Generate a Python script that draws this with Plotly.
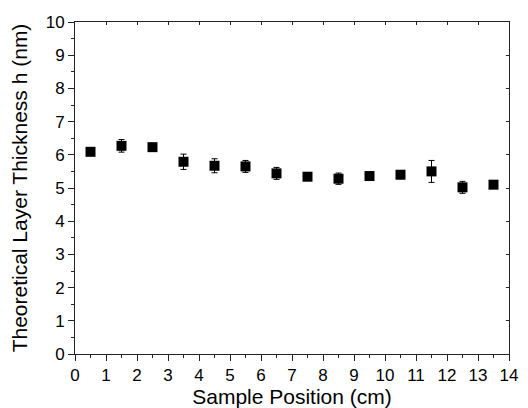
import plotly.graph_objects as go

positions = [0.5, 1.5, 2.5, 3.5, 4.5, 5.5, 6.5, 7.5, 8.5, 9.5, 10.5, 11.5, 12.5, 13.5]
thickness = [6.09, 6.27, 6.23, 5.79, 5.67, 5.65, 5.44, 5.34, 5.28, 5.36, 5.40, 5.50, 5.02, 5.10]
errors = [0.08, 0.19, 0.10, 0.23, 0.21, 0.18, 0.18, 0.10, 0.17, 0.10, 0.12, 0.33, 0.18, 0.08]

font_family = "Liberation Sans, Arial, sans-serif"

fig = go.Figure()
fig.add_trace(go.Scatter(
    x=positions, y=thickness, mode="markers",
    marker=dict(symbol="square", size=10, color="black"),
    error_y=dict(type="data", array=errors, visible=True, color="black", thickness=1, width=3),
    showlegend=False,
))
# invisible trace for the mirrored (top/right) axes
fig.add_trace(go.Scatter(x=[None], y=[None], xaxis="x2", yaxis="y2", showlegend=False, hoverinfo="skip"))

axis_common = dict(showgrid=False, zeroline=False, linecolor="#222", linewidth=1, automargin=False,
                   tickcolor="#222", tickfont=dict(family=font_family, size=17, color="black"))

# page body has an 8px margin, so figure is 520x400 with left/top margins reduced accordingly
fig.update_layout(
    width=520, height=400,
    margin=dict(l=67, r=19, t=14, b=54),
    plot_bgcolor="white", paper_bgcolor="white",
    font=dict(family=font_family, color="black"),
    xaxis=dict(range=[0, 14], dtick=1, tick0=0, ticks="outside", ticklen=6, tickwidth=1,
               minor=dict(dtick=0.5, ticks="outside", ticklen=3, tickcolor="#222"),
               showline=True, title=dict(text="Sample Position (cm)", font=dict(size=21), standoff=0),
               **axis_common),
    yaxis=dict(range=[0, 10], dtick=1, tick0=0, ticks="outside", ticklen=6, tickwidth=1,
               minor=dict(dtick=0.5, ticks="outside", ticklen=3, tickcolor="#222"),
               showline=True, title=dict(text="Theoretical Layer Thickness h (nm)", font=dict(size=21), standoff=13),
               **axis_common),
    xaxis2=dict(range=[0, 14], overlaying="x", side="top", dtick=1, ticks="inside", ticklen=3,
                showticklabels=False, showline=True, showgrid=False, zeroline=False,
                linecolor="#222", tickcolor="#222"),
    yaxis2=dict(range=[0, 10], overlaying="y", side="right", dtick=1, ticks="inside", ticklen=3,
                showticklabels=False, showline=True, showgrid=False, zeroline=False,
                linecolor="#222", tickcolor="#222"),
)

fig.write_html("out.html")
